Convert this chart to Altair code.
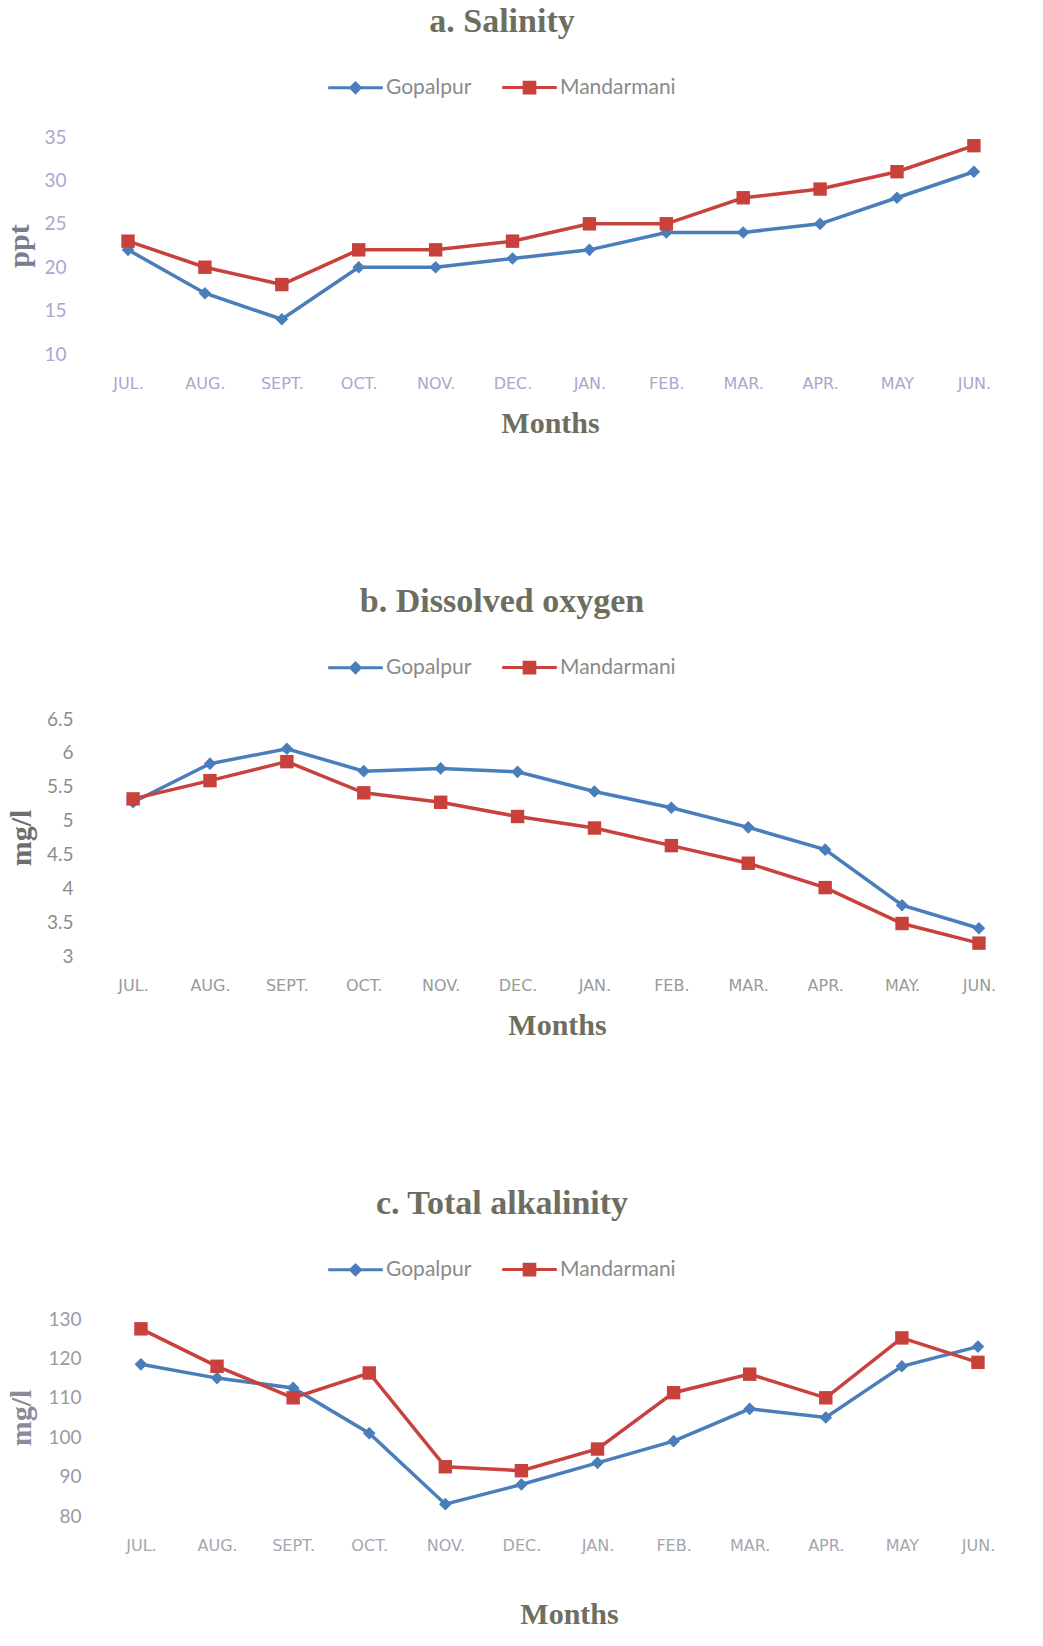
import altair as alt
import pandas as pd

# ---------------- data ----------------
series = ["Gopalpur", "Mandarmani"]

months_a = ["JUL.", "AUG.", "SEPT.", "OCT.", "NOV.", "DEC.", "JAN.", "FEB.", "MAR.", "APR.", "MAY", "JUN."]
months_b = ["JUL.", "AUG.", "SEPT.", "OCT.", "NOV.", "DEC.", "JAN.", "FEB.", "MAR.", "APR.", "MAY.", "JUN."]
months_c = ["JUL.", "AUG.", "SEPT.", "OCT.", "NOV.", "DEC.", "JAN.", "FEB.", "MAR.", "APR.", "MAY", "JUN."]

sal_gopalpur = [22, 17, 14, 20, 20, 21, 22, 24, 24, 25, 28, 31]
sal_mandarmani = [23, 20, 18, 22, 22, 23, 25, 25, 28, 29, 31, 34]
sal_ticks = [10, 15, 20, 25, 30, 35]

do_gopalpur = [5.27, 5.84, 6.06, 5.73, 5.77, 5.72, 5.43, 5.19, 4.90, 4.57, 3.75, 3.41]
do_mandarmani = [5.32, 5.59, 5.87, 5.41, 5.27, 5.06, 4.89, 4.63, 4.37, 4.01, 3.48, 3.19]
do_ticks = [3, 3.5, 4, 4.5, 5, 5.5, 6, 6.5]

alk_gopalpur = [118.5, 115, 112.5, 101, 83, 88, 93.5, 99, 107.2, 105, 118, 123]
alk_mandarmani = [127.5, 118, 110, 116.3, 92.5, 91.5, 97, 111.3, 116, 110, 125.2, 119]
alk_ticks = [80, 90, 100, 110, 120, 130]

BLUE = "#4a7ebb"
RED = "#c8413b"
TITLE_COLOR = "#6e6e60"
GOP_PATH = "M-1.95,0H1.95M0,-0.34L0.34,0L0,0.34L-0.34,0Z"
MAN_PATH = "M-1.95,0H1.95M-0.38,-0.38H0.38V0.38H-0.38Z"


def frame(months, gop, man):
    rows = []
    for i, m in enumerate(months):
        rows.append({"Month": m, "Station": series[0], "Value": gop[i]})
        rows.append({"Month": m, "Station": series[1], "Value": man[i]})
    return pd.DataFrame(rows)


def panel(months, gop, man, title, ytitle, ydom, yticks, yfmt, height,
          pad, align, ylab_color, ylab_pad, ytitle_color, ytitle_x,
          xlab_color, months_x, months_pad, legend_y):
    df = frame(months, gop, man)
    x = alt.X(
        "Month:N", sort=months,
        scale=alt.Scale(type="point", padding=pad, align=align),
        axis=alt.Axis(
            labelAngle=0, ticks=False, domain=False, grid=False,
            labelPadding=21, labelFont="DejaVu Sans", labelFontSize=16,
            labelColor=xlab_color, title="Months", titleFont="Liberation Serif",
            titleFontSize=30, titleFontWeight="bold", titleColor=TITLE_COLOR,
            titlePadding=months_pad, titleX=months_x,
        ),
    )
    y = alt.Y(
        "Value:Q",
        scale=alt.Scale(domain=ydom, nice=False, zero=False),
        axis=alt.Axis(
            values=yticks, format=yfmt, grid=False, domain=False, ticks=False,
            labelPadding=ylab_pad, labelFont="Lato", labelFontSize=19,
            labelColor=ylab_color, title=ytitle, titleFont="Liberation Serif",
            titleFontSize=30, titleFontWeight="bold", titleColor=ytitle_color,
            titleX=ytitle_x, titleY=height / 2, titleBaseline="middle",
        ),
    )
    base = alt.Chart(df)
    gop_rows = base.transform_filter(alt.datum.Station == series[0])
    man_rows = base.transform_filter(alt.datum.Station == series[1])
    l_gop = gop_rows.mark_line(strokeWidth=3.5, color=BLUE).encode(x=x, y=y)
    l_man = man_rows.mark_line(strokeWidth=3.5, color=RED).encode(x=x, y=y)
    p_gop = gop_rows.mark_point(shape="diamond", filled=True, size=160, opacity=1, color=BLUE).encode(x=x, y=y)
    p_man = man_rows.mark_point(shape="square", filled=True, size=180, opacity=1, color=RED).encode(x=x, y=y)
    leg = alt.Legend(
        title=None, orient="none", direction="horizontal",
        legendX=250, legendY=legend_y, symbolSize=784, symbolStrokeWidth=3,
        labelFont="Lato", labelFontSize=21, labelColor="#8a8a8a",
        labelOffset=15, columnPadding=24, symbolOpacity=1,
    )
    # legend-only layer: no rows reach the marks, the legend comes from the scales
    dummy = base.transform_filter("datum.Value < -1e9").mark_point(filled=True, opacity=1).encode(
        x=x, y=y,
        fill=alt.Fill("Station:N", scale=alt.Scale(domain=series, range=[BLUE, RED]), legend=leg),
        stroke=alt.Stroke("Station:N", scale=alt.Scale(domain=series, range=[BLUE, RED]), legend=leg),
        shape=alt.Shape("Station:N", scale=alt.Scale(domain=series, range=[GOP_PATH, MAN_PATH]), legend=leg),
    )
    return alt.layer(l_gop, l_man, p_gop, p_man, dummy).properties(
        width=930, height=height,
        title=alt.TitleParams(
            text=title, font="Liberation Serif", fontSize=34, fontWeight="bold",
            color=TITLE_COLOR, anchor="middle", offset=33, dx=-53,
        ),
    )


a = panel(months_a, sal_gopalpur, sal_mandarmani, "a. Salinity", "ppt", [10, 35], sal_ticks, "d",
          217, 0.547, 0.452, "#a8a8d0", 24, "#7c7c8c", -71, "#a8a8cc", 460, 17, -65)
b = panel(months_b, do_gopalpur, do_mandarmani, "b. Dissolved oxygen", "mg/l", [3, 6.5], do_ticks, "~g",
          237, 0.547, 0.512, "#8c8c8c", 17, "#6e6e6e", -69, "#9a9a9a", 467, 17, -67)
c = panel(months_c, alk_gopalpur, alk_mandarmani, "c. Total alkalinity", "mg/l", [80, 130], alk_ticks, "d",
          197, 0.611, 0.548, "#9a9aa6", 9, "#8a8a98", -69, "#a6a6b0", 479, 46, -65)

chart = (
    alt.vconcat(a, b, c, spacing=147)
    .resolve_scale(fill="independent", stroke="independent", shape="independent")
    .resolve_legend(fill="independent", stroke="independent", shape="independent")
    .configure_view(stroke=None)
    .properties(background="white", padding={"left": 4, "top": 5, "right": 5, "bottom": 5})
)

chart.save("out.html", embed_options={"renderer": "svg", "actions": False})
